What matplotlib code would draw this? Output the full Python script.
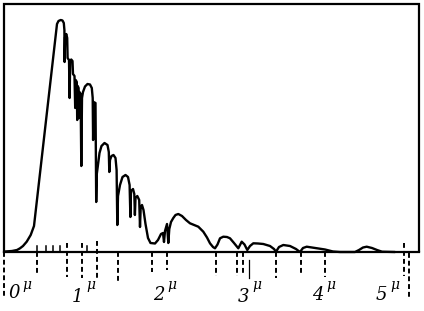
import matplotlib
matplotlib.use("Agg")
import matplotlib.pyplot as plt

# prismatic scale position (x) and energy (y) of the drawn spectrum curve
spec_x = [5, 12, 17, 20, 23, 26.7, 30.7, 34, 57, 58.5, 60.7, 62.5, 63.8, 64.4,
          64.6, 65.1, 66.3, 67.2, 67.6, 69, 69.6, 70.2, 71.2, 72.5, 73, 74.5,
          75.2, 75.7, 76.8, 77.2, 77.7, 78.6, 79, 79.5, 80.6, 81.3, 82, 83, 85,
          87.5, 90, 91.8, 92.7, 93.1, 93.6, 95.5, 96.2, 96.8, 98, 99.5, 101.5,
          104.5, 107.5, 108.8, 109.3, 110, 111.5, 113.5, 115.5, 116.6, 117.3,
          118, 120, 122.5, 125.5, 128, 129.6, 130.4, 131, 133, 134.3, 134.9,
          135.5, 137.3, 139.2, 140, 140.7, 142, 143.5, 145.5, 148, 150.5, 155,
          158, 161, 163, 164, 165, 167, 168.3, 169.3, 171, 173.3, 175.5, 178.3,
          182, 186, 190, 198.3, 203.3, 207, 210, 213, 215, 217.5, 220, 223.3,
          227, 230, 234, 238.3, 241.7, 244.5, 247.3, 250, 253.3, 258, 263.3,
          270, 274, 276, 279, 283.3, 290, 296, 300, 303, 306.7, 312, 316.7, 325,
          333, 340, 355, 359, 363, 366.7, 372, 377, 382, 395]
spec_y = [0.5, 1, 2, 3.7, 6, 10.3, 17, 26, 228, 231, 232, 231.5, 229, 222,
          190, 215, 218, 214, 194, 192, 154, 190, 192.5, 191, 178, 176,
          144, 172, 170, 132, 166, 164, 134, 160, 158, 86, 154, 160, 165.5,
          168, 167.5, 164, 154, 112, 150, 149, 50, 78, 87, 99, 106,
          109, 107, 100, 80, 92, 96, 97, 94, 82, 27,
          56, 67, 75, 77, 75, 67, 35, 61, 63, 58, 37,
          54, 56, 52, 25, 45, 47, 42, 28, 14, 9, 8.5,
          12, 18, 19, 10, 21, 28, 9, 23, 30, 34, 37, 38,
          36, 32, 28.7, 25.3, 20.3, 14.5, 8.7, 5, 3.7, 7.5, 13.7, 15.3,
          15, 13.7, 9, 3.7, 10.3, 7.5, 2, 6, 8.7, 8.5, 8,
          6, 3, 0.3, 5, 7, 6, 3, 0, 4, 5.3, 4.5, 3.7, 2.5,
          0.5, 0, 0, 2, 4.5, 5.3, 4, 2, 0.3, 0]

# reference lines on the scale: position, extent above base, extent below base
ref_x = [36.7, 66.7, 81.7, 96.7, 117.7, 152, 166.7, 216, 237.3, 243.3,
         276, 300.7, 325.3, 404]
ref_up = [0, 9, 9, 11, 0, 0, 0, 0, 0, 0, 0, 0, 0, 9]
ref_down = [21, 25, 26, 26, 30, 20, 18, 24, 24, 21, 26, 23, 25, 24]
solid_ref_x = [249]
short_tick_x = [36.7, 46, 53.3, 60, 87.3]

# micron marks on the scale
micron_labels = ["0", "1", "2", "3", "4", "5"]
micron_x = [8, 72, 153, 238, 312, 376]
micron_drop = [46, 50, 48, 50, 48, 48]

fig = plt.figure(figsize=(4.24, 3.11), dpi=100)
ax = fig.add_axes([0, 0, 1, 1])
ax.set_xlim(0, 424)
ax.set_ylim(-59, 252)
ax.axis("off")

lw = 1.6
# frame
ax.plot([4, 4, 418.5, 418.5], [0, 248, 248, 1], color="black", lw=lw,
        solid_joinstyle="miter")
ax.plot([4, 418.5], [0, 0], color="black", lw=lw)
# extended frame edges below the base (dashed)
ax.plot([4, 4], [0, -46], color="black", lw=1.4, ls=(0, (2.5, 1.5)))
ax.plot([409.3, 409.3], [-1, -45], color="black", lw=1.4, ls=(0, (2.5, 1.5)))

# spectrum curve
ax.plot(spec_x, spec_y, color="black", lw=1.7, solid_joinstyle="round",
        solid_capstyle="round")

# dashed reference lines
for x, up, dn in zip(ref_x, ref_up, ref_down):
    ax.plot([x, x], [up, -dn], color="black", lw=1.4, ls=(0, (2.5, 1.6)))
for x in solid_ref_x:
    ax.plot([x, x], [-8, -26], color="black", lw=0.9)
for x in short_tick_x:
    ax.plot([x, x], [0, 6], color="black", lw=1.1)

# micron labels
for lab, x, d in zip(micron_labels, micron_x, micron_drop):
    ax.text(x, -d, lab, fontsize=13, fontstyle="italic", family="DejaVu Serif",
            ha="left", va="baseline")
    ax.text(x + 14, -37, "μ", fontsize=10, fontstyle="italic",
            family="DejaVu Serif", ha="left", va="baseline")

fig.savefig("out.png", dpi=100)
